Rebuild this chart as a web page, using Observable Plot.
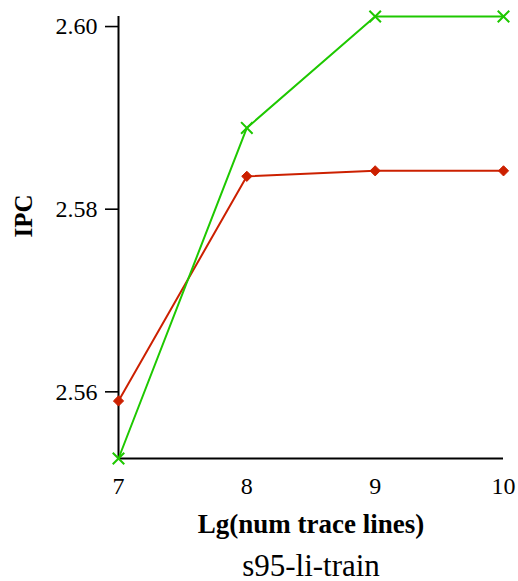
<!DOCTYPE html>
<html>
<head>
<meta charset="utf-8">
<script src="https://cdn.jsdelivr.net/npm/d3@7"></script>
<script src="https://cdn.jsdelivr.net/npm/@observablehq/plot@0.6"></script>
<style>
  body { margin: 0; background: #fff; }
  #chart svg { display: block; }
</style>
</head>
<body>
<div id="chart"></div>
<script>
// Lg of the number of trace lines
const lgLines = [7, 8, 9, 10];
// IPC for the two configurations
const ipcGreen = [2.5527, 2.5889, 2.6011, 2.6011];
const ipcRed = [2.5590, 2.5836, 2.5842, 2.5842];
const yTicks = [2.56, 2.58, 2.60];
const title = "s95-li-train";

const green = "#1ec800";
const red = "#cc2000";
const serif = "'Liberation Serif', 'Times New Roman', Times, serif";

const greenData = lgLines.map((x, i) => ({x, y: ipcGreen[i]}));
const redData = lgLines.map((x, i) => ({x, y: ipcRed[i]}));
const yMin = d3.min([...ipcGreen, ...ipcRed]);
const yMax = d3.max([...ipcGreen, ...ipcRed]);

const chart = Plot.plot({
  width: 518,
  height: 581,
  marginLeft: 118,
  marginRight: 15,
  marginTop: 16,
  marginBottom: 123,
  style: {fontFamily: serif, fontSize: "24px", color: "#000", background: "#fff"},
  x: {domain: [7, 10]},
  y: {domain: [yMin, yMax]},
  marks: [
    Plot.axisX({ticks: lgLines, tickSize: 0, tickPadding: 18, label: null, fontSize: 24, fontFamily: serif, tickFormat: d => String(d)}),
    Plot.axisY({ticks: yTicks, tickSize: 13, tickPadding: 8, label: null, fontSize: 24, fontFamily: serif, strokeWidth: 1.6, tickFormat: d3.format(".2f")}),
    Plot.ruleX([7], {stroke: "#000", strokeWidth: 2}),
    Plot.ruleY([yMin], {stroke: "#000", strokeWidth: 2}),
    Plot.line(redData, {x: "x", y: "y", stroke: red, strokeWidth: 2}),
    Plot.line(greenData, {x: "x", y: "y", stroke: green, strokeWidth: 2}),
    Plot.dot(redData, {x: "x", y: "y", symbol: "diamond2", r: 4.6, fill: red, stroke: red, strokeWidth: 1}),
    Plot.dot(greenData, {x: "x", y: "y", symbol: "times", r: 5.3, stroke: green, strokeWidth: 2}),
    Plot.text(["IPC"], {frameAnchor: "left", lineAnchor: "middle", rotate: -90, dx: -95, fontWeight: "bold", fontSize: 25, fontFamily: serif}),
    Plot.text(["Lg(num trace lines)"], {frameAnchor: "bottom", lineAnchor: "middle", dy: 66, fontWeight: "bold", fontSize: 27, fontFamily: serif}),
    Plot.text([title], {frameAnchor: "bottom", lineAnchor: "middle", dy: 108, fontSize: 31, fontFamily: serif})
  ]
});
document.getElementById("chart").appendChild(chart);
</script>
</body>
</html>
